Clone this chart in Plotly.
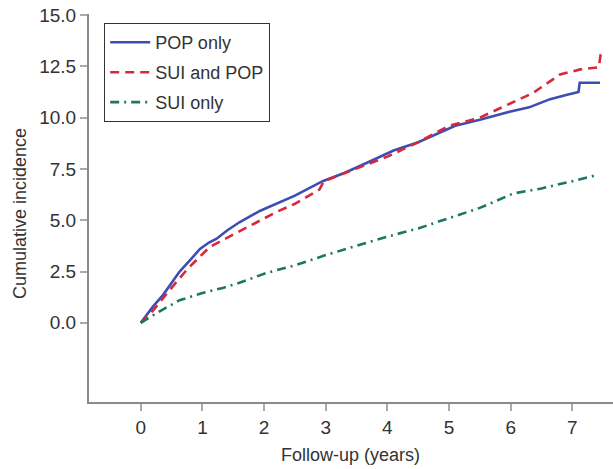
import plotly.graph_objects as go

# POP only
pop_t = [0, 0.1, 0.2, 0.36, 0.5, 0.63, 0.8, 0.96, 1.1, 1.23, 1.4, 1.6, 1.93, 2.2, 2.5, 2.95, 3.3, 3.6,
         4.1, 4.5, 5.1, 5.5, 6.0, 6.3, 6.64, 6.9, 7.1, 7.12, 7.45]
pop_v = [0, 0.4, 0.8, 1.35, 1.95, 2.5, 3.05, 3.6, 3.9, 4.1, 4.5, 4.9, 5.45, 5.8, 6.2, 6.9, 7.3, 7.7,
         8.4, 8.8, 9.6, 9.9, 10.3, 10.5, 10.9, 11.1, 11.25, 11.7, 11.7]

# SUI and POP
both_t = [0, 0.2, 0.47, 0.75, 1.0, 1.12, 1.5, 1.88, 2.2, 2.5, 2.9, 2.97, 3.5, 4.0, 4.5, 5.0, 5.5,
          6.0, 6.36, 6.8, 7.13, 7.43, 7.46]
both_v = [0, 0.6, 1.6, 2.6, 3.35, 3.7, 4.3, 4.9, 5.4, 5.8, 6.5, 6.9, 7.5, 8.1, 8.8, 9.6, 10.0,
          10.7, 11.2, 12.1, 12.35, 12.45, 13.1]

# SUI only
sui_t = [0, 0.3, 0.63, 1.0, 1.33, 1.6, 2.05, 2.5, 3.0, 3.5, 4.0, 4.5, 5.0, 5.5, 6.04, 6.5, 7.0, 7.4]
sui_v = [0, 0.55, 1.1, 1.45, 1.7, 1.95, 2.44, 2.8, 3.3, 3.75, 4.2, 4.6, 5.1, 5.6, 6.3, 6.55, 6.9, 7.2]

x_ticks = [0, 1, 2, 3, 4, 5, 6, 7]
y_ticks = [0.0, 2.5, 5.0, 7.5, 10.0, 12.5, 15.0]

FONT = "Arial, Liberation Sans, Helvetica, sans-serif"
TXT = "#333333"
AX = "#8a8a8a"

fig = go.Figure()
fig.add_trace(go.Scatter(x=pop_t, y=pop_v, mode="lines", name="POP only", legendgroup="a",
                         line=dict(color="#3d4db3", width=2.6)))
fig.add_trace(go.Scatter(x=both_t, y=both_v, mode="lines", name="SUI and POP", legendgroup="b",
                         line=dict(color="#d8283a", width=2.6, dash="9px,6px")))
fig.add_trace(go.Scatter(x=sui_t, y=sui_v, mode="lines", name="SUI only", legendgroup="c",
                         line=dict(color="#1c7666", width=2.6, dash="9px,5px,2px,5px")))

fig.update_layout(
    width=613, height=469,
    margin=dict(l=89, r=0, t=14, b=67, autoexpand=False),
    paper_bgcolor="white", plot_bgcolor="white",
    font=dict(family=FONT, size=18, color=TXT),
    showlegend=True,
    legend=dict(x=0.0286, y=0.977, xanchor="left", yanchor="top",
                bordercolor="#333333", borderwidth=1.2, bgcolor="white",
                font=dict(size=18, color=TXT), tracegroupgap=3.5,
                itemwidth=40),
    annotations=[
        dict(text="Follow-up (years)", xref="paper", yref="paper", x=0.499, y=-0.1366,
             xanchor="center", yanchor="middle", showarrow=False,
             font=dict(size=18, color=TXT, family=FONT)),
        dict(text="Cumulative incidence", xref="paper", yref="paper", x=-0.1317, y=0.487,
             xanchor="center", yanchor="middle", showarrow=False, textangle=-90,
             font=dict(size=18, color=TXT, family=FONT)),
    ],
)
fig.update_xaxes(range=[-0.84, 7.66], tickvals=x_ticks, ticktext=[str(v) for v in x_ticks],
                 automargin=False, ticklabeloverflow="allow",
                 showgrid=False, zeroline=False, showline=True, linecolor=AX, linewidth=2,
                 ticks="outside", ticklen=7, tickwidth=2, tickcolor="#aaaaaa",
                 tickfont=dict(size=19, color=TXT))
fig.update_yaxes(range=[-3.86, 15.05], tickvals=y_ticks, ticktext=[f"{v:.1f}" for v in y_ticks],
                 automargin=False, ticklabeloverflow="allow",
                 showgrid=False, zeroline=False, showline=True, linecolor=AX, linewidth=2,
                 ticks="outside", ticklen=7, tickwidth=2, tickcolor="#aaaaaa",
                 tickfont=dict(size=19, color=TXT))

# remove the browser's default 8px body margin so the figure sits at the window's corner
fig.write_html("out.html", config={"displayModeBar": False},
               post_script="document.body.style.margin='0px';")
